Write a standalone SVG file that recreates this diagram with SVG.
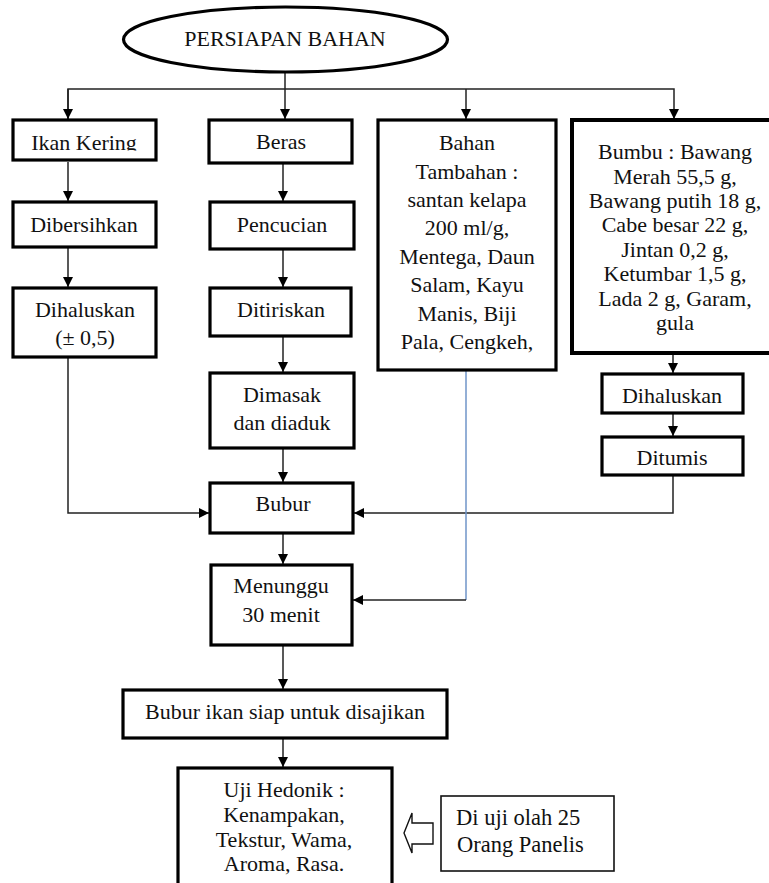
<svg xmlns="http://www.w3.org/2000/svg" width="769" height="883" viewBox="0 0 769 883">
<style>
.box{fill:#fff;stroke:#000;stroke-width:3.2}
.thin{fill:#fff;stroke:#111;stroke-width:1.6}
.t{font-family:"Liberation Serif","Times New Roman",serif;font-size:22px;fill:#111;text-anchor:middle}
.tl{font-family:"Liberation Serif","Times New Roman",serif;font-size:22.5px;fill:#111}
.ln{fill:none;stroke:#222;stroke-width:1.5}
.blue{fill:none;stroke:#6f95c8;stroke-width:1.5}
</style>
<defs>
<marker id="ah" viewBox="0 0 10 10" refX="10" refY="5" markerWidth="10" markerHeight="10" markerUnits="userSpaceOnUse" orient="auto">
<path d="M0,0 L10,5 L0,10 Z" fill="#000"/>
</marker>
<clipPath id="clipIkan"><rect x="13" y="120" width="143" height="30.5"/></clipPath>
</defs>
<rect width="769" height="883" fill="#fff"/>

<g id="connectors">
<path class="ln" d="M285,73 V119" marker-end="url(#ah)"/>
<path class="ln" d="M68,119 V89 H674 V119" marker-end="url(#ah)"/>
<path class="ln" d="M68,89 V119" marker-end="url(#ah)"/>
<path class="ln" d="M466,89 V119" marker-end="url(#ah)"/>
<path class="ln" d="M68,162 V201" marker-end="url(#ah)"/>
<path class="ln" d="M68,248 V287" marker-end="url(#ah)"/>
<path class="ln" d="M283,164 V201" marker-end="url(#ah)"/>
<path class="ln" d="M283,250 V287" marker-end="url(#ah)"/>
<path class="ln" d="M283,337 V372" marker-end="url(#ah)"/>
<path class="ln" d="M283,449 V482" marker-end="url(#ah)"/>
<path class="ln" d="M68,358 V513 H209" marker-end="url(#ah)"/>
<path class="ln" d="M673,354 V373" marker-end="url(#ah)"/>
<path class="ln" d="M673,414 V436" marker-end="url(#ah)"/>
<path class="ln" d="M673,476 V513 H354" marker-end="url(#ah)"/>
<path class="ln" d="M283,534 V564" marker-end="url(#ah)"/>
<path class="blue" d="M466,371 V600"/>
<path class="ln" d="M466,600 H353" marker-end="url(#ah)"/>
<path class="ln" d="M283,646 V689" marker-end="url(#ah)"/>
<path class="ln" d="M283,739 V767" marker-end="url(#ah)"/>
<path d="M404,833 L412,813 V823 H433 V844 H412 V853 Z" fill="#fff" stroke="#111" stroke-width="1.4"/>
</g>

<g id="persiapan">
<ellipse cx="285.5" cy="39.5" rx="162" ry="32.5" fill="#fff" stroke="#000" stroke-width="3.2"/>
<text class="t" x="285" y="46">PERSIAPAN  BAHAN</text>
</g>

<g id="ikan-kering">
<rect class="box" x="13" y="120" width="143" height="40"/>
<text class="t" x="84" y="150" clip-path="url(#clipIkan)">Ikan Kering</text>
</g>
<g id="dibersihkan">
<rect class="box" x="13" y="202" width="143" height="45"/>
<text class="t" x="84" y="232">Dibersihkan</text>
</g>
<g id="dihaluskan-1">
<rect class="box" x="13" y="288" width="143" height="69"/>
<text class="t" x="85" y="317">Dihaluskan</text>
<text class="t" x="85" y="345">(± 0,5)</text>
</g>

<g id="beras">
<rect class="box" x="209" y="120" width="143" height="43"/>
<text class="t" x="281" y="149">Beras</text>
</g>
<g id="pencucian">
<rect class="box" x="210" y="202" width="144" height="47"/>
<text class="t" x="282" y="232">Pencucian</text>
</g>
<g id="ditiriskan">
<rect class="box" x="210" y="288" width="141" height="48"/>
<text class="t" x="281" y="317">Ditiriskan</text>
</g>
<g id="dimasak">
<rect class="box" x="210" y="373" width="144" height="75"/>
<text class="t" x="282" y="402">Dimasak</text>
<text class="t" x="282" y="430">dan diaduk</text>
</g>

<g id="bahan-tambahan">
<rect class="box" x="378" y="120" width="178" height="250"/>
<text class="t" x="467" y="150">Bahan</text>
<text class="t" x="467" y="178.5">Tambahan :</text>
<text class="t" x="467" y="207">santan kelapa</text>
<text class="t" x="467" y="235">200 ml/g,</text>
<text class="t" x="467" y="264">Mentega, Daun</text>
<text class="t" x="467" y="292">Salam, Kayu</text>
<text class="t" x="467" y="321">Manis, Biji</text>
<text class="t" x="467" y="349">Pala, Cengkeh,</text>
</g>

<g id="bumbu">
<rect x="572" y="120" width="210" height="233" fill="#fff" stroke="#000" stroke-width="4"/>
<text class="t" x="675" y="159">Bumbu : Bawang</text>
<text class="t" x="675" y="183.5">Merah 55,5 g,</text>
<text class="t" x="675" y="208">Bawang putih 18 g,</text>
<text class="t" x="675" y="232">Cabe besar 22 g,</text>
<text class="t" x="675" y="256.5">Jintan 0,2 g,</text>
<text class="t" x="675" y="281">Ketumbar 1,5 g,</text>
<text class="t" x="675" y="305.5">Lada 2 g, Garam,</text>
<text class="t" x="675" y="330">gula</text>
</g>
<g id="dihaluskan-2">
<rect class="box" x="602" y="374" width="141" height="39"/>
<text class="t" x="672" y="403">Dihaluskan</text>
</g>
<g id="ditumis">
<rect class="box" x="602" y="437" width="141" height="38"/>
<text class="t" x="672" y="465">Ditumis</text>
</g>

<g id="bubur">
<rect class="box" x="210" y="483" width="143" height="50"/>
<text class="t" x="283" y="511">Bubur</text>
</g>
<g id="menunggu">
<rect class="box" x="211" y="565" width="141" height="80"/>
<text class="t" x="281" y="593">Menunggu</text>
<text class="t" x="281" y="622">30 menit</text>
</g>
<g id="bubur-ikan">
<rect class="box" x="123" y="690" width="324" height="48"/>
<text class="t" x="285" y="719">Bubur ikan siap untuk disajikan</text>
</g>
<g id="uji-hedonik">
<rect class="box" x="178" y="768" width="214" height="130"/>
<text class="t" x="284" y="797">Uji Hedonik :</text>
<text class="t" x="284" y="822">Kenampakan,</text>
<text class="t" x="284" y="847">Tekstur, Wama,</text>
<text class="t" x="284" y="871">Aroma, Rasa.</text>
</g>
<g id="panelis">
<rect class="thin" x="441" y="796" width="173" height="75"/>
<text class="tl" x="456" y="825">Di uji olah 25</text>
<text class="tl" x="457" y="852">Orang Panelis</text>
</g>
</svg>
